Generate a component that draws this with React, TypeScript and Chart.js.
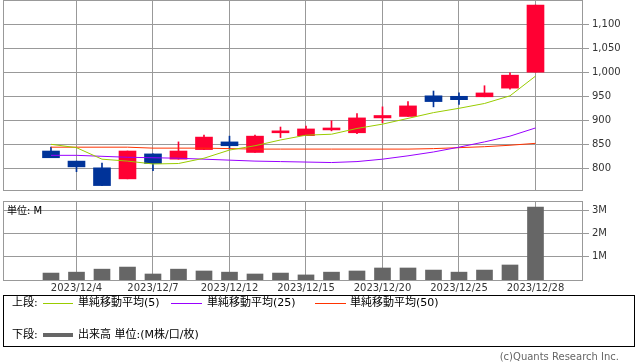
import React, { useEffect, useRef } from 'react';
import { Chart, registerables } from 'chart.js';

Chart.register(...registerables);

// ---- data ----
const dates = [
  '2023/12/1', '2023/12/4', '2023/12/5', '2023/12/6', '2023/12/7', '2023/12/8',
  '2023/12/11', '2023/12/12', '2023/12/13', '2023/12/14', '2023/12/15',
  '2023/12/18', '2023/12/19', '2023/12/20', '2023/12/21', '2023/12/22',
  '2023/12/25', '2023/12/26', '2023/12/27', '2023/12/28',
];
const openPrices = [836, 815, 801, 778, 830, 819, 839, 855, 833, 874, 868, 880, 874, 905, 908, 951, 950, 949, 967, 1000];
const closePrices = [822, 803, 764, 836, 810, 836, 865, 847, 867, 878, 882, 884, 905, 910, 930, 939, 943, 957, 994, 1140];
const highPrices = [844, 815, 811, 836, 830, 855, 869, 867, 869, 886, 888, 899, 914, 928, 939, 961, 957, 972, 999, 1140];
const lowPrices = [822, 793, 764, 778, 795, 819, 839, 840, 833, 864, 868, 878, 872, 895, 908, 928, 933, 949, 965, 1000];
const sma5 = [850, 843, 819, 815, 809, 810, 821, 838, 847, 859, 869, 871, 883, 892, 904, 916, 925, 935, 951, 992];
const sma25 = [827, 827, 825, 823, 822, 821, 819, 817, 815, 814, 813, 812, 814, 819, 826, 834, 844, 855, 867, 884];
const sma50 = [844, 844, 844, 844, 842, 842, 842, 841, 840, 840, 840, 840, 840, 840, 840, 841, 843, 845, 848, 852];
const volumeM = [0.30, 0.34, 0.47, 0.56, 0.26, 0.47, 0.39, 0.34, 0.26, 0.30, 0.22, 0.34, 0.39, 0.52, 0.52, 0.43, 0.34, 0.43, 0.65, 3.16];
const dateTickIndexes = [1, 4, 7, 10, 13, 16, 19];
const priceTicks = [800, 850, 900, 950, 1000, 1050, 1100];
const volumeTicks = [1, 2, 3];

// ---- styles ----
const GRID = '#999999';
const UP = '#ff0033';
const DOWN = '#003399';
const FONT = "'DejaVu Sans', 'Noto Sans CJK JP', sans-serif";
const X_MIN = -1.882;
const X_MAX = 20.863;

// frame + vertical date grid lines, drawn under the datasets
const framePlugin = {
  id: 'frame',
  beforeDatasetsDraw(chart: any) {
    const { ctx, chartArea: a } = chart;
    const xs = chart.scales.x;
    const l = Math.round(a.left), r = Math.round(a.right), t = Math.round(a.top), b = Math.round(a.bottom);
    ctx.save();
    ctx.fillStyle = GRID;
    for (let k = 0; k < dateTickIndexes.length; k++) {
      const px = Math.floor(xs.getPixelForValue(dateTickIndexes[k]));
      ctx.fillRect(px, t, 1, b - t + 1);
    }
    ctx.fillRect(l, t, r - l, 1);
    ctx.fillRect(l, b, r - l, 1);
    ctx.fillRect(l, t, 1, b - t + 1);
    ctx.fillRect(r - 1, t, 1, b - t + 1);
    ctx.restore();
  },
};

const noPad = (s: any) => {
  s.paddingTop = 0; s.paddingBottom = 0; s.paddingLeft = 0; s.paddingRight = 0;
};

function xScale(showLabels: boolean, height: number) {
  return {
    type: 'linear',
    min: X_MIN,
    max: X_MAX,
    offset: false,
    afterBuildTicks: (s: any) => { s.ticks = dateTickIndexes.map((v) => ({ value: v })); },
    afterFit: (s: any) => { s.height = height; noPad(s); },
    grid: { display: false, drawTicks: false, offset: false },
    border: { display: false },
    ticks: {
      display: showLabels,
      autoSkip: false,
      maxRotation: 0,
      padding: 2,
      color: '#333333',
      font: { family: FONT, size: 10 },
      callback: (v: any) => dates[Math.round(Number(v))] ?? '',
    },
  };
}

function yScale(min: number, max: number, ticks: number[], fmt: (v: number) => string) {
  return {
    type: 'linear',
    position: 'right',
    min,
    max,
    afterBuildTicks: (s: any) => { s.ticks = ticks.map((v) => ({ value: v })); },
    afterFit: (s: any) => { s.width = 55; noPad(s); },
    grid: { color: GRID, lineWidth: 1, drawTicks: true, tickLength: 6 },
    border: { display: false },
    ticks: {
      padding: 3,
      color: '#333333',
      font: { family: FONT, size: 10 },
      callback: (v: any) => fmt(Number(v)),
    },
  };
}

function PriceChart() {
  const ref = useRef<HTMLCanvasElement>(null);
  useEffect(() => {
    const pts = (arr: number[]) => arr.map((y, i) => ({ x: i, y }));
    const colors = closePrices.map((c, i) => (c >= openPrices[i] ? UP : DOWN));
    const chart = new Chart(ref.current as HTMLCanvasElement, {
      type: 'bar',
      data: {
        datasets: [
          { type: 'line', data: pts(sma5), borderColor: '#99cc00', borderWidth: 1, pointRadius: 0, tension: 0 } as any,
          { type: 'line', data: pts(sma25), borderColor: '#9900ff', borderWidth: 1, pointRadius: 0, tension: 0 } as any,
          { type: 'line', data: pts(sma50), borderColor: '#ff3300', borderWidth: 1, pointRadius: 0, tension: 0 } as any,
          {
            type: 'bar',
            data: openPrices.map((o, i) => ({ x: i, y: [o, closePrices[i]] })),
            backgroundColor: colors,
            borderWidth: 0,
            barThickness: 17,
            grouped: false,
          } as any,
          {
            type: 'bar',
            data: lowPrices.map((l, i) => ({ x: i, y: [l, highPrices[i]] })),
            backgroundColor: colors,
            borderWidth: 0,
            barThickness: 1,
            grouped: false,
          } as any,
        ],
      },
      options: {
        animation: false,
        responsive: false,
        maintainAspectRatio: false,
        devicePixelRatio: 1,
        events: [],
        layout: { padding: { left: 3, top: 0, right: 0, bottom: 10 } },
        plugins: { legend: { display: false }, tooltip: { enabled: false } },
        scales: {
          x: xScale(false, 0) as any,
          y: yScale(754.8, 1150.6, priceTicks, (v) => v.toLocaleString('en-US')) as any,
        },
      },
      plugins: [framePlugin],
    });
    return () => chart.destroy();
  }, []);
  return <canvas ref={ref} width={638} height={200} style={{ position: 'absolute', left: 0, top: 0, width: 638, height: 200 }} />;
}

function VolumeChart() {
  const ref = useRef<HTMLCanvasElement>(null);
  useEffect(() => {
    const chart = new Chart(ref.current as HTMLCanvasElement, {
      type: 'bar',
      data: {
        datasets: [
          {
            data: volumeM.map((v, i) => ({ x: i, y: v })),
            backgroundColor: '#666666',
            borderWidth: 0,
            barThickness: 16,
          } as any,
        ],
      },
      options: {
        animation: false,
        responsive: false,
        maintainAspectRatio: false,
        devicePixelRatio: 1,
        events: [],
        layout: { padding: { left: 3, top: 5, right: 0, bottom: 0 } },
        plugins: { legend: { display: false }, tooltip: { enabled: false } },
        scales: {
          x: xScale(true, 16) as any,
          y: yScale(0, 3.42, volumeTicks, (v) => `${v}M`) as any,
        },
      },
      plugins: [framePlugin],
    });
    return () => chart.destroy();
  }, []);
  return <canvas ref={ref} width={638} height={100} style={{ position: 'absolute', left: 0, top: 196, width: 638, height: 100 }} />;
}

const txt = (left: number, centerY: number, text: string, size = 11, color = '#000'): React.ReactElement => (
  <div
    style={{
      position: 'absolute', left, top: centerY - 8, height: 16, lineHeight: '16px',
      fontFamily: FONT, fontSize: size, color, whiteSpace: 'nowrap',
    }}
  >
    {text}
  </div>
);

const swatch = (left: number, width: number, top: number, height: number, color: string) => (
  <div style={{ position: 'absolute', left, top, width, height, background: color }} />
);

export default function App() {
  return (
    <div style={{ position: 'fixed', left: 0, top: 0, width: 638, height: 362, background: '#fff', overflow: 'hidden' }}>
      <PriceChart />
      <VolumeChart />
      {txt(7, 210.5, '単位: M', 10)}
      <div style={{ position: 'absolute', left: 3, top: 295, width: 632, height: 52, border: '1px solid #000', boxSizing: 'border-box' }} />
      {txt(12, 303, '上段:')}
      {swatch(43, 30, 303, 1, '#99cc00')}
      {txt(78, 303, '単純移動平均(5)')}
      {swatch(171, 31, 303, 1, '#9900ff')}
      {txt(207, 303, '単純移動平均(25)')}
      {swatch(315, 31, 303, 1, '#ff3300')}
      {txt(350, 303, '単純移動平均(50)')}
      {txt(12, 335, '下段:')}
      {swatch(43, 30, 333, 4, '#666666')}
      {txt(78, 335, '出来高 単位:(M株/口/枚)')}
      <div
        style={{
          position: 'absolute', right: 19, top: 349, height: 16, lineHeight: '16px',
          fontFamily: FONT, fontSize: 10, color: '#666', whiteSpace: 'nowrap',
        }}
      >
        (c)Quants Research Inc.
      </div>
    </div>
  );
}
